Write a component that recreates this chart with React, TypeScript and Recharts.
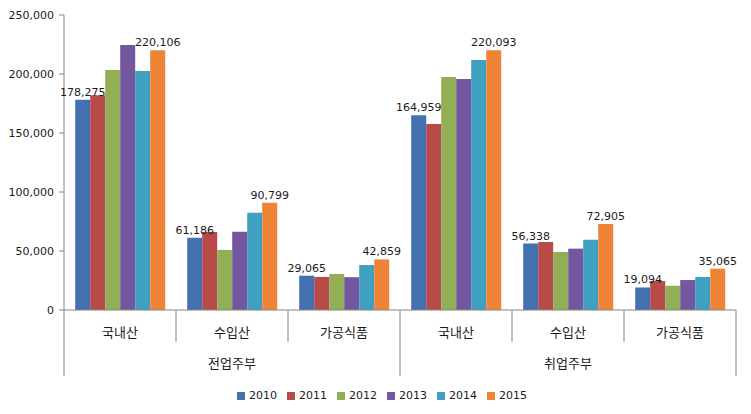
import { BarChart, Bar, XAxis, YAxis, Legend, LabelList } from "recharts";

const CATEGORIES = ["국내산", "수입산", "가공식품", "국내산", "수입산", "가공식품"];
const GROUPS = ["전업주부", "전업주부", "전업주부", "취업주부", "취업주부", "취업주부"];
const YEARS = ["2010", "2011", "2012", "2013", "2014", "2015"];

const Y2010 = [178275, 61186, 29065, 164959, 56338, 19094];
const Y2011 = [182000, 66000, 28000, 157600, 57600, 24600];
const Y2012 = [203400, 50900, 30500, 197500, 49200, 20600];
const Y2013 = [224600, 66400, 27800, 195800, 52000, 25400];
const Y2014 = [202600, 82400, 38100, 211900, 59600, 28000];
const Y2015 = [220106, 90799, 42859, 220093, 72905, 35065];

const Y_TICKS = [0, 50000, 100000, 150000, 200000, 250000];

const COLORS = ["#4472B0", "#B84A47", "#92AF55", "#7358A0", "#3FA0BF", "#EE8435"];

const SERIES = [Y2010, Y2011, Y2012, Y2013, Y2014, Y2015];

const data = CATEGORIES.map((item, i) => {
  const row: Record<string, string | number> = { item, group: GROUPS[i] };
  YEARS.forEach((yr, s) => {
    row[yr] = SERIES[s][i];
  });
  return row;
});

const W = 751;
const H = 414;
const LEFT = 64;
const RIGHT = 15;
const BAND = (W - LEFT - RIGHT) / CATEGORIES.length;
const AXIS_COLOR = "#868686";
const fmt = (v: number) => Number(v).toLocaleString("en-US");

function ItemTick(props: any) {
  const { x, y, payload } = props;
  const i = payload.index;
  const half = BAND / 2;
  const long = i === 0 || i === 3;
  return (
    <g>
      <line x1={x - half} x2={x - half} y1={y} y2={y + (long ? 66 : 32)} stroke={AXIS_COLOR} />
      {i === 5 && <line x1={x + half} x2={x + half} y1={y} y2={y + 66} stroke={AXIS_COLOR} />}
      <text x={x} y={y + 27} textAnchor="middle" fontSize={13} fontFamily="Noto Sans CJK KR" fill="#1a1a1a">
        {CATEGORIES[i]}
      </text>
      {(i === 1 || i === 4) && (
        <text x={x} y={y + 58} textAnchor="middle" fontSize={13} fontFamily="Noto Sans CJK KR" fill="#1a1a1a">
          {GROUPS[i]}
        </text>
      )}
    </g>
  );
}

export default function App() {
  return (
    <div style={{ position: "absolute", left: 0, top: 0, width: W, height: H, background: "#fff", fontFamily: "DejaVu Sans" }}>
      <BarChart
        width={W}
        height={H}
        data={data}
        margin={{ top: 15, right: RIGHT, bottom: 25, left: 0 }}
        barCategoryGap="10%"
        barGap={0}
      >
        <XAxis
          dataKey="item"
          height={66}
          tickLine={false}
          tickSize={0}
          tickMargin={0}
          axisLine={{ stroke: AXIS_COLOR }}
          tick={<ItemTick />}
          interval={0}
        />
        <YAxis
          width={LEFT}
          domain={[0, 250000]}
          ticks={Y_TICKS}
          tickFormatter={fmt}
          tickSize={5}
          tickMargin={5}
          axisLine={{ stroke: AXIS_COLOR }}
          tickLine={{ stroke: AXIS_COLOR }}
          tick={{ fontSize: 11, fill: "#1a1a1a", fontFamily: "DejaVu Sans" }}
        />
        <Legend
          iconType="square"
          iconSize={8}
          wrapperStyle={{ fontSize: 11, fontFamily: "DejaVu Sans", bottom: 12, transform: "translateX(19px)" }}
          formatter={(v: string) => <span style={{ color: "#1a1a1a" }}>{v}</span>}
        />
        {YEARS.map((yr, s) => (
          <Bar key={yr} dataKey={yr} fill={COLORS[s]} isAnimationActive={false}>
            {(s === 0 || s === 5) && (
              <LabelList dataKey={yr} position="top" offset={4} formatter={fmt} fontSize={11} fill="#1a1a1a" fontFamily="DejaVu Sans" />
            )}
          </Bar>
        ))}
      </BarChart>
    </div>
  );
}
